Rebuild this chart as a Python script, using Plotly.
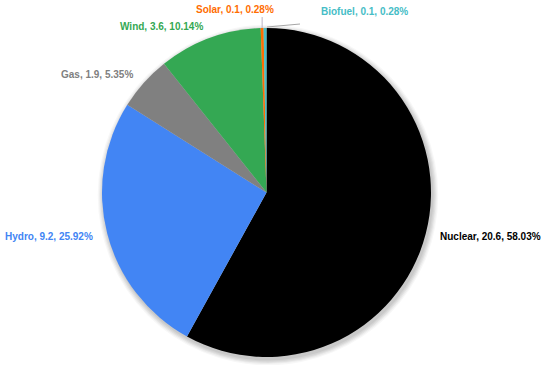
import math
import plotly.graph_objects as go

labels = ["Nuclear", "Hydro", "Gas", "Wind", "Solar", "Biofuel"]
values = [20.6, 9.2, 1.9, 3.6, 0.1, 0.1]
colors = ["#000000", "#4285F4", "#808080", "#34A853", "#FF6D01", "#46BDC6"]

W, H = 550, 365
CX, CY, R = 266.5, 192.5, 164.5      # pie centre / radius in pixels
LABEL_R = 177                          # radius of label anchor points
# small slices get pushed labels: (x_px, y_px, xanchor)
PUSHED = {"Solar": (276, 9, "right"), "Biofuel": (319, 12, "left")}


def px(x):
    return x / W


def py(y):
    return 1 - y / H


fig = go.Figure(go.Pie(
    labels=labels,
    values=values,
    sort=False,
    direction="clockwise",
    rotation=0,
    marker=dict(colors=colors, line=dict(color="white", width=0)),
    textinfo="none",
    showlegend=False,
    hoverinfo="label+value+percent",
    domain=dict(x=[px(CX - R), px(CX + R)], y=[py(CY + R), py(CY - R)]),
))

# soft shadow behind the pie
shapes = []
for i, a in enumerate([0.05, 0.05, 0.05, 0.04, 0.03]):
    rr = R + 1 + i * 1.2
    sx, sy = CX + 1.5, CY + 2.5
    shapes.append(dict(type="circle", xref="paper", yref="paper", layer="below",
                       x0=px(sx - rr), x1=px(sx + rr), y0=py(sy + rr), y1=py(sy - rr),
                       fillcolor=f"rgba(0,0,0,{a})", line=dict(width=0)))

total = sum(values)
annotations = []
cum = 0.0
for lab, val, col in zip(labels, values, colors):
    mid = (cum + val / 2) / total * 2 * math.pi
    cum += val
    pct = val / total * 100
    text = f"<b>{lab}, {val:g}, {pct:.2f}%</b>"
    sx, sy = math.sin(mid), -math.cos(mid)
    ex, ey = CX + R * sx, CY + R * sy
    if lab in PUSHED:
        lx, ly, anchor = PUSHED[lab]
        if anchor == "right":
            shapes.append(dict(type="line", xref="paper", yref="paper",
                               x0=px(ex), y0=py(ey), x1=px(ex), y1=py(ly + 8),
                               line=dict(color="#b9b3c4", width=1)))
        else:
            shapes.append(dict(type="line", xref="paper", yref="paper",
                               x0=px(ex + 2), y0=py(ey - 1), x1=px(lx - 19), y1=py(ly + 12),
                               line=dict(color="#a6a6a6", width=1)))
    else:
        lx, ly = CX + LABEL_R * sx, CY + LABEL_R * sy
        anchor = "left" if sx > 0 else "right"
    annotations.append(dict(x=px(lx), y=py(ly), xref="paper", yref="paper",
                            text=text, showarrow=False, xanchor=anchor, yanchor="middle",
                            font=dict(family="Liberation Sans", size=10, color=col)))

fig.update_layout(
    width=W, height=H,
    margin=dict(l=0, r=0, t=0, b=0),
    paper_bgcolor="white",
    plot_bgcolor="white",
    shapes=shapes,
    annotations=annotations,
)
fig.write_html("out.html")
